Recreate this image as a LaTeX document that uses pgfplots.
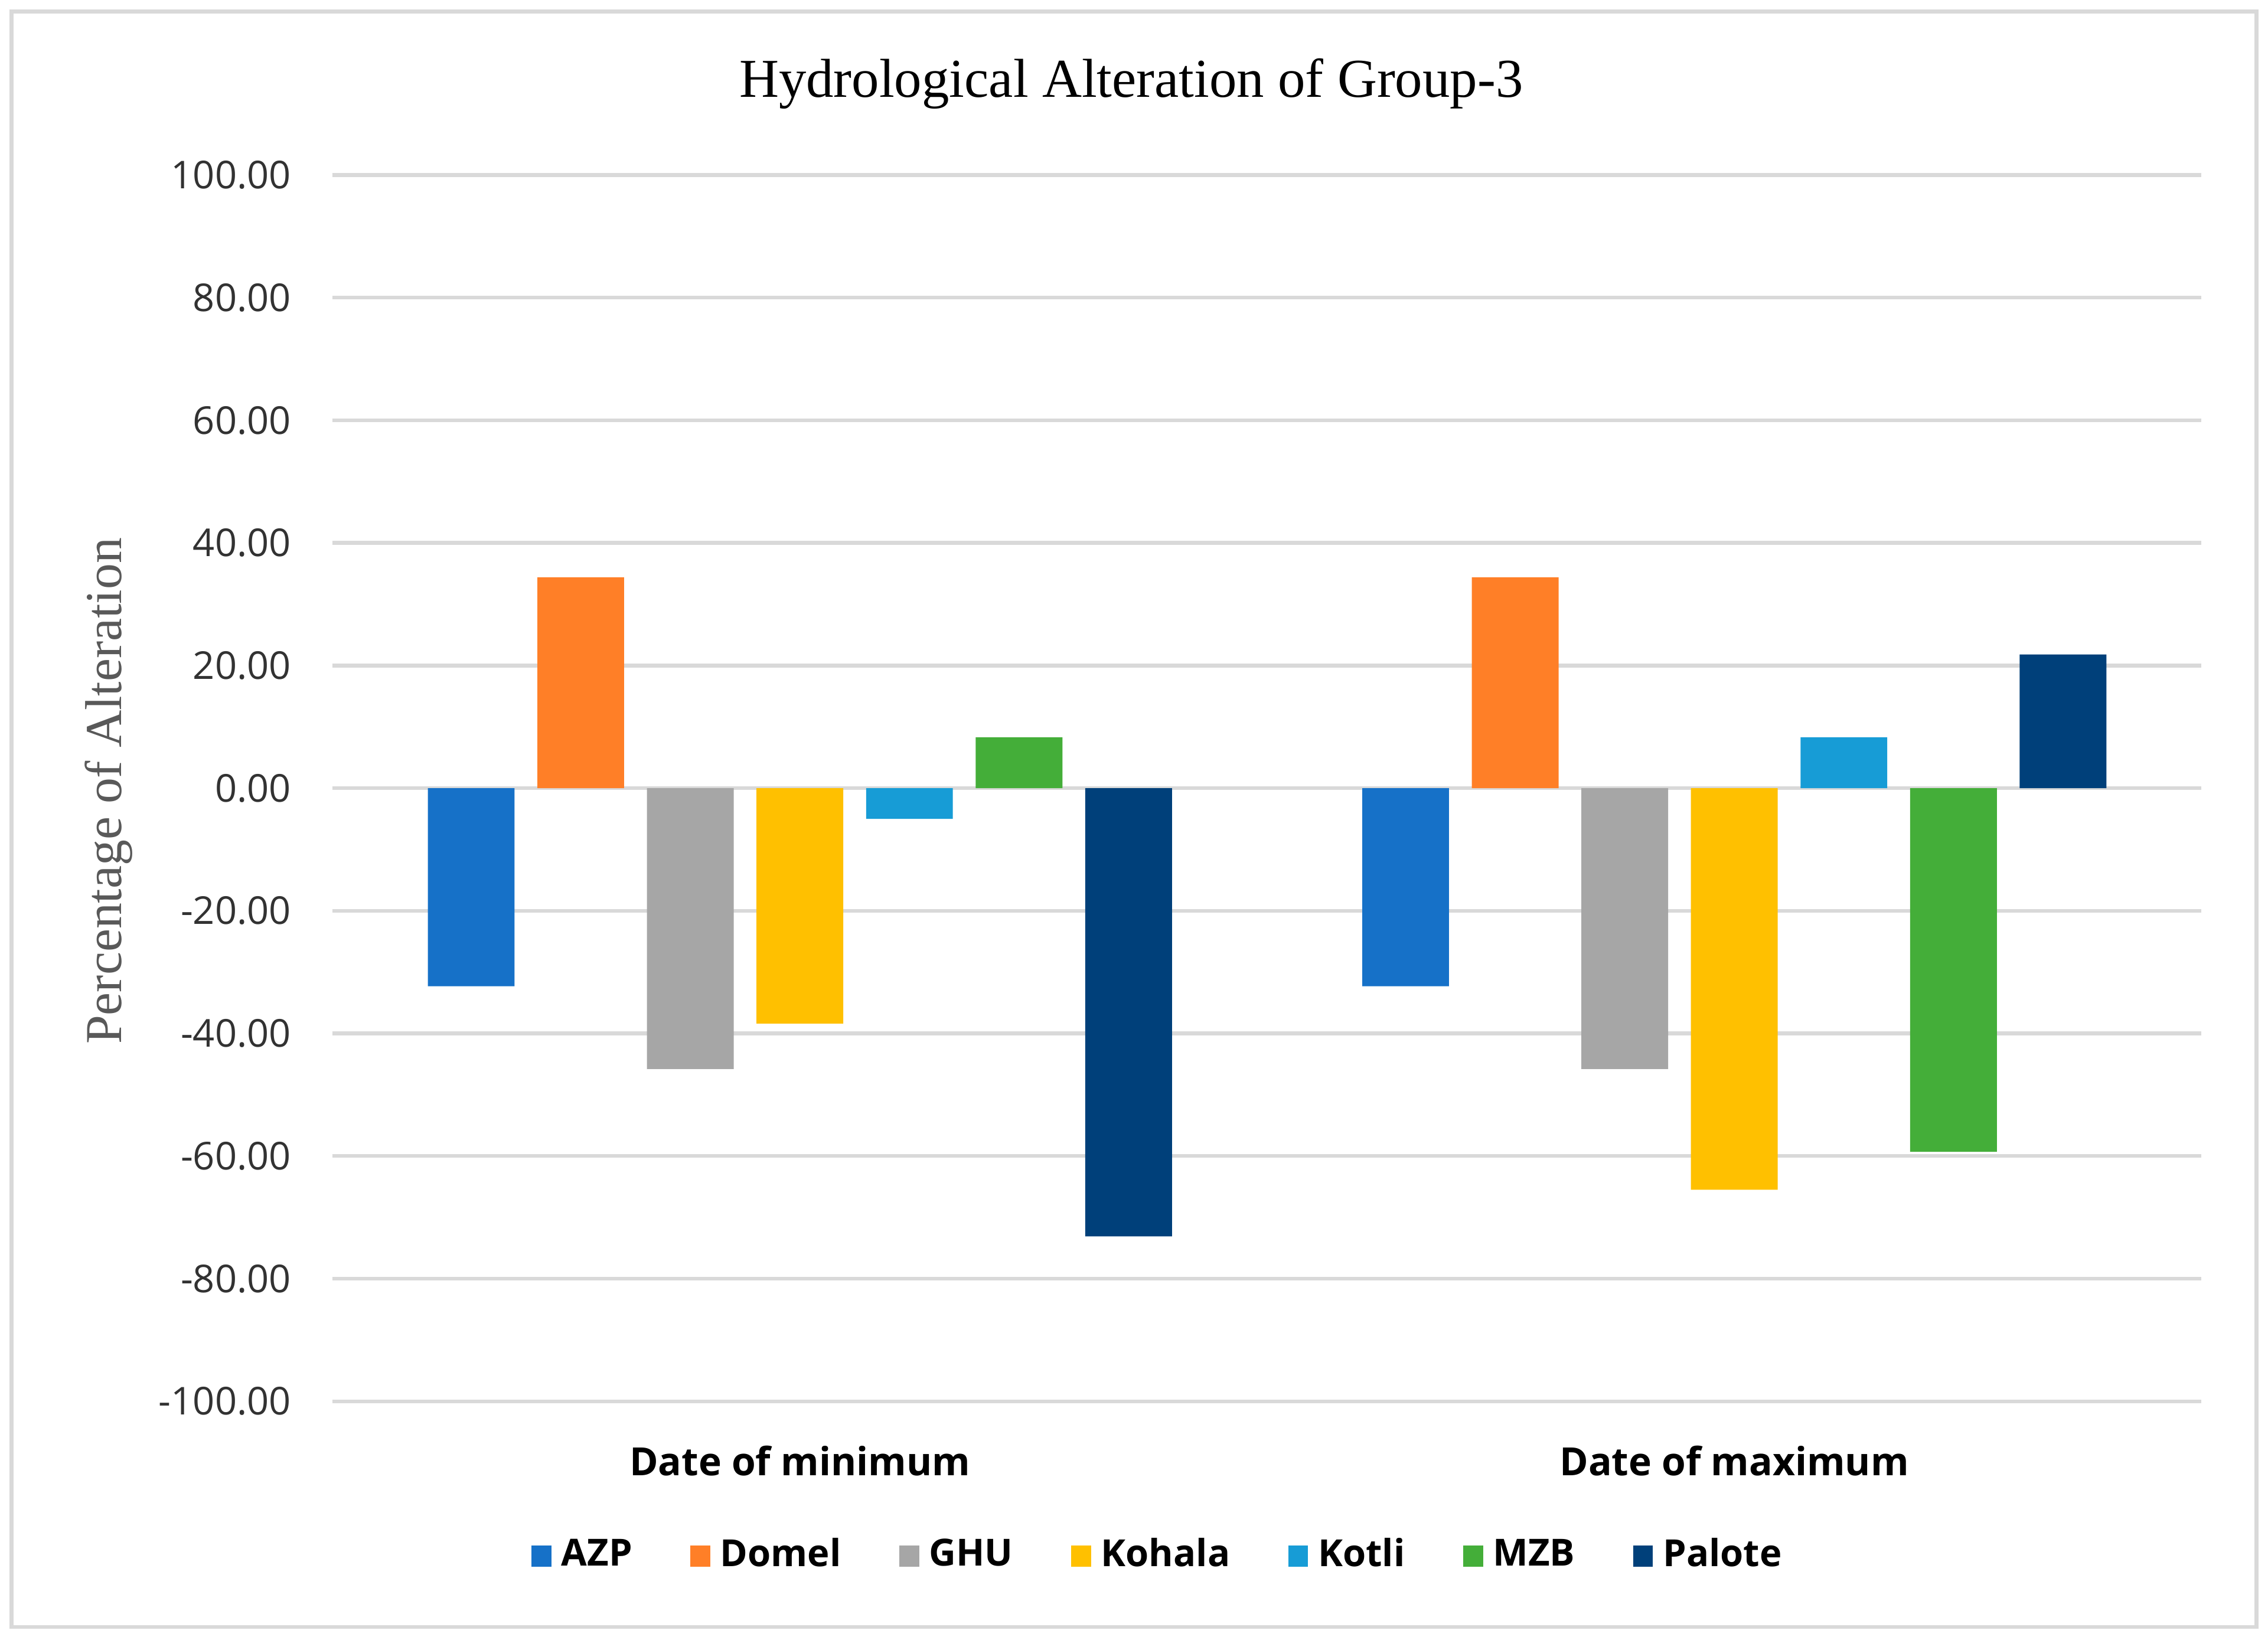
\documentclass[border=0pt]{standalone}
\usepackage{pgfplots}
\pgfplotsset{compat=1.18}
\usepackage{fontspec}
\setmainfont{Open Sans}
\newfontfamily\serif{Liberation Serif}

\definecolor{cAZP}{RGB}{22,113,200}
\definecolor{cDomel}{RGB}{255,127,39}
\definecolor{cGHU}{RGB}{166,166,166}
\definecolor{cKohala}{RGB}{255,192,0}
\definecolor{cKotli}{RGB}{23,156,214}
\definecolor{cMZB}{RGB}{68,174,57}
\definecolor{cPalote}{RGB}{0,64,122}
\definecolor{gridgray}{RGB}{217,217,217}
\definecolor{labelgray}{RGB}{89,89,89}
\definecolor{tickgray}{RGB}{50,50,50}

\begin{document}
\begin{tikzpicture}
\path[use as bounding box] (-2.347,-1.663) rectangle (13.653,9.888);
\draw[gridgray, line width=0.8pt] (-2.265,-1.592) rectangle (13.571,9.806);
\node[font=\serif\fontsize{11}{13}\selectfont] at (5.633,9.296) {Hydrological Alteration of Group-3};
\node[font=\serif\fontsize{10.4}{12}\selectfont, text=labelgray, rotate=90] at (-1.582,4.306) {Percentage of Alteration};
\begin{axis}[
  scale only axis, width=13.184cm, height=8.653cm,
  ybar=0.161cm, bar width=0.612cm,
  xmin=-0.5, xmax=1.5, ymin=-100, ymax=100,
  ytick={-100,-80,...,100},
  xtick={0,1}, xticklabels={Date of minimum, Date of maximum},
  axis line style={draw=none}, tick style={draw=none},
  ymajorgrids, major grid style={gridgray, line width=0.75pt},
  /pgf/number format/assume math mode=true,
  yticklabel={\pgfmathprintnumber[fixed,fixed zerofill,precision=2]{\tick}},
  yticklabel style={font=\fontsize{7.7}{9}\selectfont, text=tickgray, xshift=-0.17cm},
  xticklabel style={font=\bfseries\fontsize{7.8}{9}\selectfont, yshift=-0.04cm},
  legend columns=7,
  legend style={draw=none, at={(0.4436,-0.1262)}, anchor=center,
    font=\bfseries\fontsize{7.5}{9}\selectfont,
    /tikz/every even column/.append style={column sep=0.34cm}},
  legend image code/.code={\fill[#1] (0cm,-0.075cm) rectangle (0.14cm,0.075cm);},
]
\addplot[fill=cAZP, draw=none] coordinates {(0,-32.3) (1,-32.3)};
\addplot[fill=cDomel, draw=none] coordinates {(0,34.4) (1,34.4)};
\addplot[fill=cGHU, draw=none] coordinates {(0,-45.8) (1,-45.8)};
\addplot[fill=cKohala, draw=none] coordinates {(0,-38.4) (1,-65.5)};
\addplot[fill=cKotli, draw=none] coordinates {(0,-5.0) (1,8.3)};
\addplot[fill=cMZB, draw=none] coordinates {(0,8.3) (1,-59.3)};
\addplot[fill=cPalote, draw=none] coordinates {(0,-73.1) (1,21.8)};
\legend{AZP, Domel, GHU, Kohala, Kotli, MZB, Palote}
\end{axis}
\end{tikzpicture}
\end{document}
